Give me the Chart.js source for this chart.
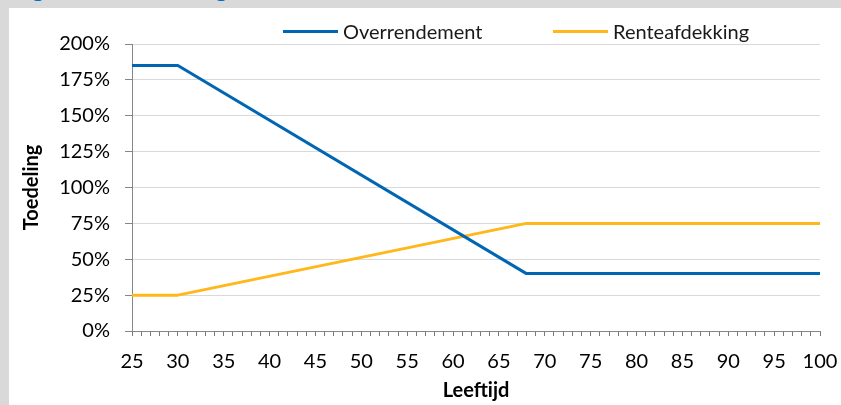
<!DOCTYPE html>
<html>
<head>
<meta charset="utf-8">
<script src="https://cdn.jsdelivr.net/npm/chart.js@4/dist/chart.umd.min.js"></script>
<style>
  html, body { margin: 0; padding: 0; }
  body { width: 841px; height: 405px; background: #d9d9d9; position: relative; overflow: hidden; font-family: Lato, "Open Sans", sans-serif; }
  #title { position: absolute; left: 12px; top: -26px; font: bold 24px Lato, sans-serif; color: #0070c0; white-space: nowrap; line-height: 28px; }
  #panel { position: absolute; left: 9px; top: 8px; width: 832px; height: 397px; background: #fff; }
  #chart { position: absolute; left: 0; top: 0; }
  .leg { position: absolute; top: 20px; height: 24px; font: 20px Lato, sans-serif; color: #1a1a1a; line-height: 24px; white-space: nowrap; }
  .leg span.sw { position: absolute; top: 10px; width: 55px; height: 3px; }
  .leg span.tx { position: absolute; left: 60px; top: -1px; }
</style>
</head>
<body>
<div id="title">Figuur 13: Toedeling</div>
<div id="panel">
  <canvas id="chart" width="832" height="397"></canvas>
</div>
<div id="legend"></div>
<script>
// ---- data ----
const ages = [25, 30, 68, 100];
const overrendement = [185, 185, 40, 40];
const renteafdekking = [25, 25, 75, 75];
const seriesNames = ['Overrendement', 'Renteafdekking'];
const seriesColors = ['#0066b3', '#ffb71b'];
const yTicks = [0, 25, 50, 75, 100, 125, 150, 175, 200];
const xTickStep = 1;
const xLabelStep = 5;
const xTitle = 'Leeftijd';
const yTitle = 'Toedeling';

// ---- html legend ----
const legendPos = [283, 553];
const legend = document.getElementById('legend');
seriesNames.forEach((name, i) => {
  const d = document.createElement('div');
  d.className = 'leg';
  d.style.left = legendPos[i] + 'px';
  d.innerHTML = '<span class="sw" style="background:' + seriesColors[i] + '"></span><span class="tx">' + name + '</span>';
  legend.appendChild(d);
});

const toPts = (vals) => ages.map((a, i) => ({ x: a, y: vals[i] }));

const axisGray = '#868686';
const gridGray = '#d9d9d9';
const tickFont = { family: 'Lato', size: 20 };
const titleFont = { family: 'Lato', size: 20, weight: 'bold' };
const xMin = ages[0], xMax = ages[ages.length - 1];

new Chart(document.getElementById('chart'), {
  type: 'line',
  data: {
    datasets: [
      { label: seriesNames[0], data: toPts(overrendement), borderColor: seriesColors[0], backgroundColor: seriesColors[0], borderWidth: 3, pointRadius: 0, tension: 0, borderJoinStyle: 'round' },
      { label: seriesNames[1], data: toPts(renteafdekking), borderColor: seriesColors[1], backgroundColor: seriesColors[1], borderWidth: 3, pointRadius: 0, tension: 0, borderJoinStyle: 'round' }
    ]
  },
  options: {
    responsive: false,
    devicePixelRatio: 1,
    animation: false,
    layout: { padding: { top: 36, right: 21, left: 0, bottom: 0 } },
    plugins: { legend: { display: false }, tooltip: { enabled: false } },
    scales: {
      x: {
        type: 'linear',
        min: xMin,
        max: xMax,
        afterBuildTicks: (s) => {
          const t = [];
          for (let v = xMin; v <= xMax; v += xTickStep) t.push({ value: v });
          s.ticks = t;
        },
        afterFit: (s) => { s.height = 74; s.paddingLeft = 0; s.paddingRight = 0; },
        ticks: {
          autoSkip: false,
          maxRotation: 0,
          padding: 14,
          color: '#000',
          font: tickFont,
          callback: (v) => (v % xLabelStep === 0 ? String(v) : '')
        },
        grid: { display: true, drawOnChartArea: false, drawTicks: true, tickLength: 5, color: '#7a7a7a', tickColor: '#7a7a7a', tickWidth: 1 },
        border: { color: axisGray, width: 1 },
        title: { display: true, text: xTitle, color: '#000', font: titleFont, padding: { top: 0, bottom: 2 } }
      },
      y: {
        min: yTicks[0],
        max: yTicks[yTicks.length - 1],
        afterFit: (s) => { s.width = 123; s.paddingTop = 0; s.paddingBottom = 0; },
        afterBuildTicks: (s) => { s.ticks = yTicks.map(v => ({ value: v })); },
        ticks: {
          padding: 15,
          color: '#000',
          font: tickFont,
          callback: (v) => v + '%'
        },
        grid: { color: gridGray, tickColor: axisGray, tickLength: 7, lineWidth: 1 },
        border: { color: axisGray, width: 1 },
        title: { display: true, text: yTitle, color: '#000', font: titleFont, padding: { top: 11, bottom: 0 } }
      }
    }
  }
});
</script>
</body>
</html>
